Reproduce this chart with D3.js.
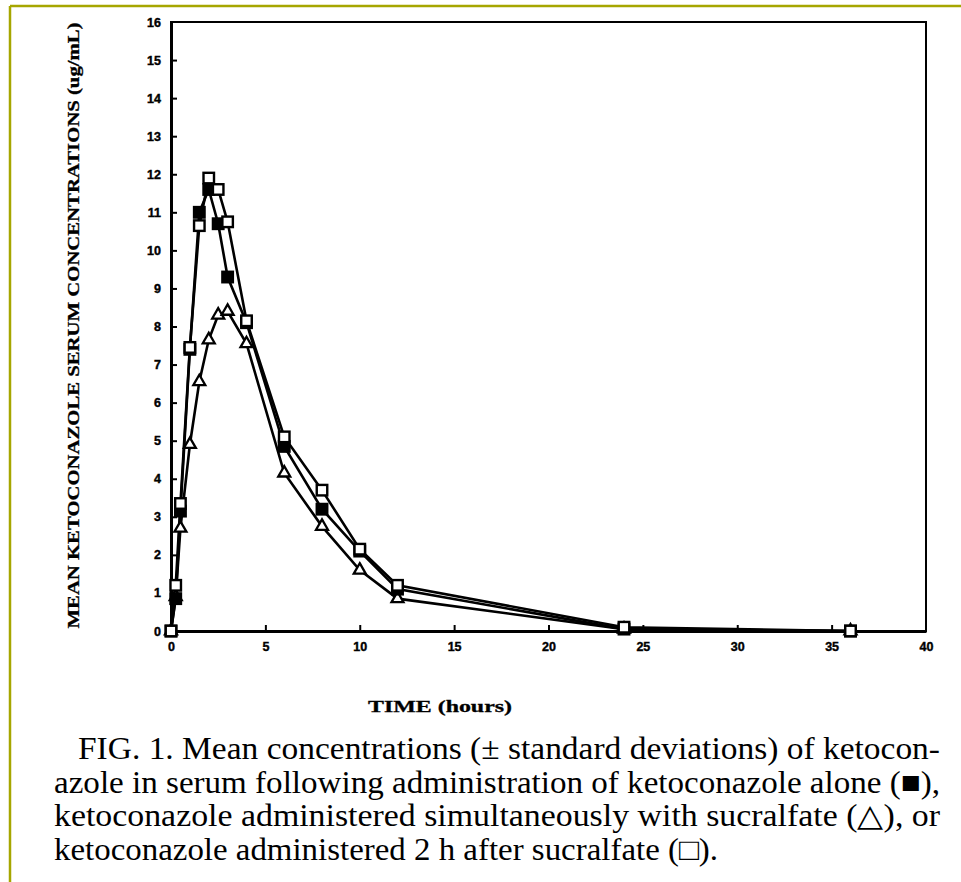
<!DOCTYPE html>
<html><head><meta charset="utf-8">
<script src="https://cdn.jsdelivr.net/npm/d3@7"></script>
<style>body{margin:0;background:#fff}svg{display:block}</style>
</head><body>
<svg id="c" width="961" height="882"></svg>
<script>
const times = [0, 0.25, 0.5, 1, 1.5, 2, 2.5, 3, 4, 6, 8, 10, 12, 24, 36];
const aloneVals = [0, 0.85, 3.15, 7.4, 11.0, 11.6, 10.7, 9.3, 8.1, 4.85, 3.2, 2.1, 1.1, 0.05, 0];
const simultVals = [0, 0.9, 2.7, 4.9, 6.55, 7.65, 8.3, 8.4, 7.55, 4.15, 2.75, 1.6, 0.85, 0.05, 0];
const afterVals = [0, 1.2, 3.35, 7.45, 10.65, 11.9, 11.6, 10.75, 8.15, 5.1, 3.7, 2.15, 1.2, 0.1, 0];
const xTicks = [0, 5, 10, 15, 20, 25, 30, 35, 40];
const yTicks = [0,1,2,3,4,5,6,7,8,9,10,11,12,13,14,15,16];
const yTitle = "MEAN KETOCONAZOLE SERUM CONCENTRATIONS (ug/mL)";
const xTitle = "TIME (hours)";
const caption = [
  "FIG. 1. Mean concentrations (\u00B1 standard deviations) of ketocon-",
  "azole in serum following administration of ketoconazole alone (\u25A0),",
  "ketoconazole administered simultaneously with sucralfate (\u25B3), or",
  "ketoconazole administered 2 h after sucralfate (\u25A1)."
];

const svg = d3.select("#c");
// page border
svg.append("line").attr("x1",10).attr("x2",961).attr("y1",6).attr("y2",6).attr("stroke","#a6a600").attr("stroke-width",2.5);
svg.append("line").attr("x1",10).attr("x2",10).attr("y1",6).attr("y2",882).attr("stroke","#a6a600").attr("stroke-width",2.5);

const x = d3.scaleLinear().domain([0,40]).range([171,926]);
const y = d3.scaleLinear().domain([0,16]).range([631,22]);

// frame
svg.append("rect").attr("x",x(0)).attr("y",y(16)).attr("width",x(40)-x(0)).attr("height",y(0)-y(16))
  .attr("fill","none").attr("stroke","#000").attr("stroke-width",2);

const tickFont = "Liberation Sans, Arial, sans-serif";
const xAxis = d3.axisBottom(x).tickValues(xTicks).tickSizeInner(-6).tickSizeOuter(0).tickPadding(11);
const gx = svg.append("g").attr("transform",`translate(0,${y(0)})`).call(xAxis);
gx.select(".domain").attr("stroke-width",3);
gx.selectAll(".tick line").attr("stroke-width",2);
gx.selectAll(".tick").filter(d=>d===0||d===40).select("line").remove();
gx.selectAll("text").attr("font-family",tickFont).attr("font-weight","bold").attr("font-size",12.5)
  .attr("stroke","#000").attr("stroke-width",0.4);

const yAxis = d3.axisLeft(y).tickValues(yTicks).tickSizeInner(-6).tickSizeOuter(0).tickPadding(10);
const gy = svg.append("g").attr("transform",`translate(${x(0)},0)`).call(yAxis);
gy.select(".domain").attr("stroke-width",3);
gy.selectAll(".tick line").attr("stroke-width",2);
gy.selectAll(".tick").filter(d=>d===0||d===16).select("line").remove();
gy.selectAll("text").attr("font-family",tickFont).attr("font-weight","bold").attr("font-size",12.5)
  .attr("stroke","#000").attr("stroke-width",0.4);

// titles
svg.append("text").attr("transform",`translate(79,${(22+629)/2}) rotate(-90)`)
  .attr("text-anchor","middle").attr("font-family","'Liberation Serif', 'Times New Roman', serif")
  .attr("font-weight","bold").attr("font-size",17).attr("textLength",606).attr("lengthAdjust","spacingAndGlyphs")
  .attr("stroke","#000").attr("stroke-width",0.3)
  .text(yTitle);
svg.append("text").attr("x",440).attr("y",712).attr("text-anchor","middle")
  .attr("font-family","'Liberation Serif', 'Times New Roman', serif").attr("font-weight","bold").attr("font-size",17)
  .attr("textLength",144).attr("lengthAdjust","spacingAndGlyphs").attr("xml:space","preserve")
  .attr("stroke","#000").attr("stroke-width",0.3)
  .text(xTitle);

// series
const line = d3.line().x(d=>x(d[0])).y(d=>y(d[1]));
const series = [
  {vals: simultVals, marker:"tri"},
  {vals: aloneVals, marker:"fsq"},
  {vals: afterVals, marker:"osq"}
];
series.forEach(s=>{
  const pts = times.map((t,i)=>[t, s.vals[i]]);
  svg.append("path").datum(pts).attr("d",line).attr("fill","none").attr("stroke","#000").attr("stroke-width",2.6);
});
series.forEach(s=>{
  const pts = times.map((t,i)=>[t, s.vals[i]]);
  const g = svg.append("g");
  if (s.marker === "tri") {
    const sym = d3.symbol().type(d3.symbolTriangle).size(62);
    g.selectAll("path").data(pts).join("path").attr("d",sym())
      .attr("transform",d=>`translate(${x(d[0])},${y(d[1])})`)
      .attr("fill","#fff").attr("stroke","#000").attr("stroke-width",2.3);
  } else {
    const sz = 10.5;
    g.selectAll("rect").data(pts).join("rect")
      .attr("x",d=>x(d[0])-sz/2).attr("y",d=>y(d[1])-sz/2).attr("width",sz).attr("height",sz)
      .attr("fill", s.marker==="fsq" ? "#000" : "#fff").attr("stroke","#000").attr("stroke-width",2.4);
  }
});

// caption
const capX0 = [78, 54, 54, 54];
const capX1 = [940, 940, 940, 718];
const capY = [759, 793, 826, 860];
caption.forEach((t,i)=>{
  svg.append("text").attr("x",capX0[i]).attr("y",capY[i])
    .attr("font-family","'Liberation Serif', 'Times New Roman', serif").attr("font-size",31)
    .attr("textLength",capX1[i]-capX0[i]).attr("lengthAdjust","spacingAndGlyphs")
    .text(t);
});
</script>
</body></html>
